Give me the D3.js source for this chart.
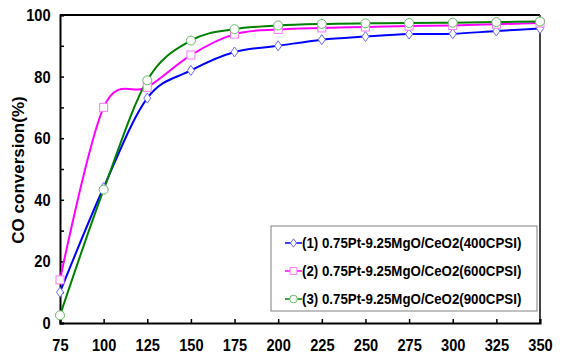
<!DOCTYPE html>
<html>
<head>
<meta charset="utf-8">
<script src="https://cdn.jsdelivr.net/npm/d3@7"></script>
<style>
  body { margin: 0; background: #fff; }
  svg text { font-family: "Liberation Sans", Arial, sans-serif; font-weight: bold; }
</style>
</head>
<body>
<div id="chart"></div>
<script>
const temps = [75, 100, 125, 150, 175, 200, 225, 250, 275, 300, 325, 350];
const cpsi400 = [10, 44, 73, 82, 88, 90, 92, 93, 93.8, 93.9, 94.8, 95.6];
const cpsi600 = [14, 70, 76.5, 87, 93.8, 95.3, 95.8, 96.1, 96.4, 96.6, 97, 97.4];
const cpsi900 = [2.5, 43.3, 78.8, 91.7, 95.4, 96.6, 97.1, 97.3, 97.4, 97.5, 97.7, 97.9];
const seriesNames = [
  '(1) 0.75Pt-9.25MgO/CeO2(400CPSI)',
  '(2) 0.75Pt-9.25MgO/CeO2(600CPSI)',
  '(3) 0.75Pt-9.25MgO/CeO2(900CPSI)'
];
const xTicks = temps;
const yTicks = [0, 20, 40, 60, 80, 100];

const series = [
  { name: seriesNames[0], values: cpsi400, line: '#0000ff', mark: '#6a6aff', shape: 'diamond' },
  { name: seriesNames[1], values: cpsi600, line: '#ff00ff', mark: '#ff77ff', shape: 'square' },
  { name: seriesNames[2], values: cpsi900, line: '#008000', mark: '#66b866', shape: 'circle' }
];

const W = 563, H = 357;
const margin = { left: 60, right: 23, top: 15, bottom: 34 };
const w = W - margin.left - margin.right;
const h = H - margin.top - margin.bottom;

const svg = d3.select('#chart').append('svg').attr('width', W).attr('height', H);
const g = svg.append('g').attr('transform', 'translate(' + margin.left + ',' + margin.top + ')');

const x = d3.scaleLinear().domain([75, 350]).range([0, w]);
const y = d3.scaleLinear().domain([0, 100]).range([h, 0]);

// frame: top black, right dark gray
g.append('line').attr('x1', 0).attr('x2', w).attr('y1', 0).attr('y2', 0)
  .attr('stroke', '#000').attr('stroke-width', 2);
g.append('line').attr('x1', w).attr('x2', w).attr('y1', 0).attr('y2', h)
  .attr('stroke', '#444').attr('stroke-width', 2);

// x axis
g.append('g')
  .attr('transform', 'translate(0,' + h + ')')
  .call(d3.axisBottom(x).tickValues(xTicks).tickSize(-4).tickPadding(16).tickFormat(d3.format('d')))
  .call(a => a.select('.domain').attr('stroke', '#000').attr('stroke-width', 2))
  .call(a => a.selectAll('.tick line').attr('stroke', '#000').attr('stroke-width', 1.5))
  .call(a => a.selectAll('.tick text').attr('font-size', 17).attr('fill', '#000')
    .attr('transform', 'scale(0.86,1)'));

// y axis
g.append('g')
  .call(d3.axisLeft(y).tickValues(d3.range(0, 101, 10)).tickSize(-4).tickPadding(11)
    .tickFormat(d => yTicks.includes(d) ? d : ''))
  .call(a => a.select('.domain').attr('stroke', '#000').attr('stroke-width', 2))
  .call(a => a.selectAll('.tick line').attr('stroke', '#000').attr('stroke-width', 1.5))
  .call(a => a.selectAll('.tick text').attr('font-size', 17).attr('fill', '#000')
    .attr('transform', 'scale(0.86,1)'));

svg.append('text')
  .attr('transform', 'translate(24,' + 170 + ') rotate(-90)')
  .attr('text-anchor', 'middle')
  .attr('font-size', 17)
  .text('CO conversion(%)');

const line = d3.line()
  .x((d, i) => x(temps[i]))
  .y(d => y(d))
  .curve(d3.curveCardinal.tension(0));

function drawMarker(sel, shape, color, size) {
  const k = size || 1;
  if (shape === 'diamond') {
    sel.append('path').attr('d', 'M0,' + (-5 * k) + 'L' + (3.5 * k) + ',0L0,' + (5 * k) + 'L' + (-3.5 * k) + ',0Z');
  } else if (shape === 'square') {
    sel.append('rect').attr('x', -4 * k).attr('y', -4 * k).attr('width', 8 * k).attr('height', 8 * k);
  } else {
    sel.append('circle').attr('r', 4.5 * k);
  }
  sel.selectAll('path,rect,circle').attr('fill', '#fff').attr('stroke', color).attr('stroke-width', 1);
}

series.forEach(s => {
  g.append('path')
    .datum(s.values)
    .attr('fill', 'none')
    .attr('stroke', s.line)
    .attr('stroke-width', 2)
    .attr('d', line);
});

series.forEach(s => {
  g.selectAll(null)
    .data(s.values)
    .enter()
    .append('g')
    .attr('transform', (d, i) => 'translate(' + x(temps[i]) + ',' + y(d) + ')')
    .each(function() { drawMarker(d3.select(this), s.shape, s.mark); });
});

// legend
const lg = svg.append('g').attr('transform', 'translate(271,226)');
lg.append('rect').attr('width', 266).attr('height', 85)
  .attr('fill', '#fff').attr('stroke', '#808080').attr('stroke-width', 1);
series.forEach((s, i) => {
  const ly = 17 + i * 28;
  const row = lg.append('g').attr('transform', 'translate(0,' + ly + ')');
  row.append('line').attr('x1', 14).attr('x2', 31).attr('y1', 0).attr('y2', 0)
    .attr('stroke', s.line).attr('stroke-width', 1.5);
  const m = row.append('g').attr('transform', 'translate(22.5,0)');
  drawMarker(m, s.shape, s.mark, 0.85);
  row.append('text').attr('x', 31).attr('y', 0).attr('dy', '0.36em')
    .attr('font-size', 14).attr('transform', 'scale(0.95,1)').attr('transform-origin', '31 0')
    .text(s.name);
});
</script>
</body>
</html>
